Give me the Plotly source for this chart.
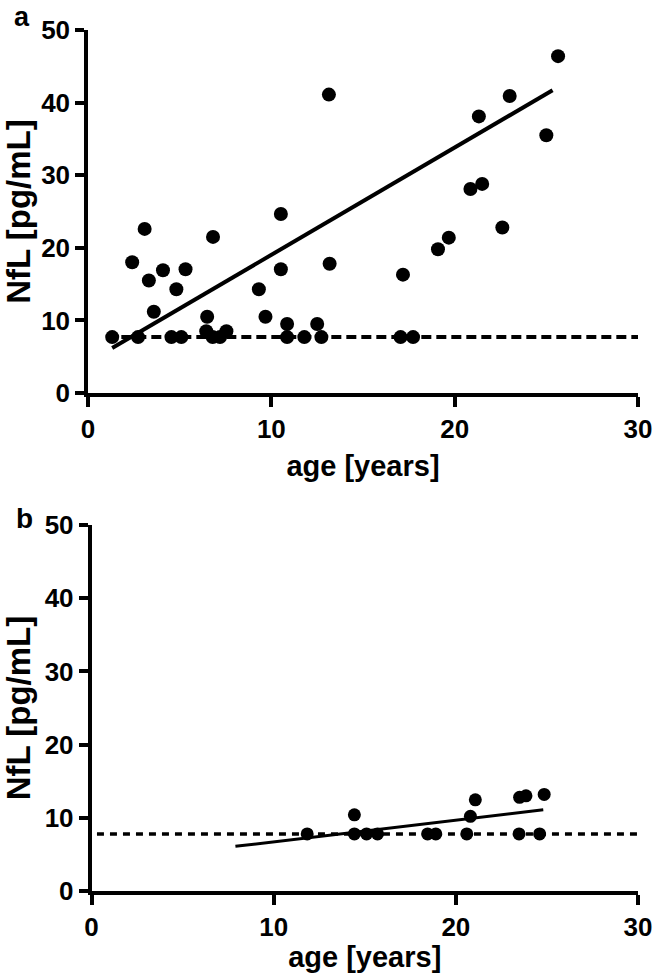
import plotly.graph_objects as go

# Panel a data (age in years, NfL pg/mL)
age_a = [1.32, 2.41, 2.73, 3.09, 3.32, 3.59, 4.09, 4.55, 4.82, 5.09, 5.32,
         6.5, 6.45, 6.82, 6.8, 7.2, 7.55, 9.32, 9.68, 10.52, 10.52, 10.86,
         10.86, 11.8, 12.5, 12.73, 13.18, 13.14, 17.05, 17.18, 17.73, 19.09,
         19.68, 20.86, 21.5, 22.6, 21.32, 23.0, 25.0, 25.64]
nfl_a = [7.7, 18.0, 7.7, 22.6, 15.5, 11.2, 16.9, 7.7, 14.3, 7.7, 17.05,
         10.5, 8.5, 21.5, 7.7, 7.7, 8.5, 14.3, 10.5, 24.65, 17.05, 9.5,
         7.7, 7.7, 9.5, 7.7, 17.8, 41.1, 7.7, 16.3, 7.7, 19.8,
         21.4, 28.1, 28.8, 22.8, 38.1, 40.9, 35.5, 46.4]
fit_a_x = [1.32, 25.34]
fit_a_y = [6.2, 41.7]
lloq_a_x = [1.0, 30.0]
lloq_a_y = [7.7, 7.7]

# Panel b data
age_b = [11.84, 14.43, 14.43, 15.1, 15.7, 18.45, 18.9, 20.6, 20.8, 21.07,
         23.47, 23.5, 23.85, 24.6, 24.85]
nfl_b = [7.8, 10.4, 7.8, 7.8, 7.8, 7.8, 7.8, 7.8, 10.2, 12.45,
         7.8, 12.8, 13.0, 7.8, 13.2]
fit_b_x = [7.9, 24.8]
fit_b_y = [6.1, 11.1]
lloq_b_x = [0.3, 30.0]
lloq_b_y = [7.8, 7.8]

x_ticks = [0, 10, 20, 30]
y_ticks = [0, 10, 20, 30, 40, 50]

FONT = "Liberation Sans, Arial, sans-serif"
W, H = 654, 976

fig = go.Figure()

# Panel a
fig.add_trace(go.Scatter(x=lloq_a_x, y=lloq_a_y, mode="lines",
                         line=dict(color="black", width=4, dash="10px,5px"),
                         xaxis="x", yaxis="y", showlegend=False, hoverinfo="skip"))
fig.add_trace(go.Scatter(x=fit_a_x, y=fit_a_y, mode="lines",
                         line=dict(color="black", width=4),
                         xaxis="x", yaxis="y", showlegend=False))
fig.add_trace(go.Scatter(x=age_a, y=nfl_a, mode="markers",
                         marker=dict(color="black", size=14),
                         cliponaxis=False, xaxis="x", yaxis="y", showlegend=False))

# Panel b
fig.add_trace(go.Scatter(x=lloq_b_x, y=lloq_b_y, mode="lines",
                         line=dict(color="black", width=3.5, dash="7px,6px"),
                         xaxis="x2", yaxis="y2", showlegend=False, hoverinfo="skip"))
fig.add_trace(go.Scatter(x=fit_b_x, y=fit_b_y, mode="lines",
                         line=dict(color="black", width=3),
                         xaxis="x2", yaxis="y2", showlegend=False))
fig.add_trace(go.Scatter(x=age_b, y=nfl_b, mode="markers",
                         marker=dict(color="black", size=13),
                         cliponaxis=False, xaxis="x2", yaxis="y2", showlegend=False))

tickfont = dict(family=FONT, size=26, color="black", weight="bold")
xtitlefont = dict(family=FONT, size=29, color="black", weight="bold")
ytitlefont = dict(family=FONT, size=33, color="black", weight="bold")

def xaxis(domain, anchor, standoff):
    return dict(domain=domain, anchor=anchor, range=[0, 30], tickvals=x_ticks,
                showline=True, linewidth=3.5, linecolor="black", ticks="outside",
                ticklen=10, tickwidth=3.5, tickcolor="black", showgrid=False,
                zeroline=False, tickfont=tickfont, automargin=False,
                title=dict(text="age [years]", font=xtitlefont, standoff=standoff))

def yaxis(domain, anchor):
    return dict(domain=domain, anchor=anchor, range=[0, 50], tickvals=y_ticks,
                showline=True, linewidth=3.5, linecolor="black", ticks="outside",
                ticklen=9, tickwidth=3.5, tickcolor="black", showgrid=False,
                zeroline=False, tickfont=tickfont, automargin=False,
                title=dict(text="NfL [pg/mL]", font=ytitlefont, standoff=26))

fig.update_layout(
    width=W, height=H,
    margin=dict(l=0, r=0, t=0, b=0),
    paper_bgcolor="white", plot_bgcolor="white",
    xaxis=xaxis([88 / W, 638 / W], "y", 14),
    yaxis=yaxis([1 - 393 / H, 1 - 30 / H], "x"),
    xaxis2=xaxis([91.5 / W, 638 / W], "y2", 7),
    yaxis2=yaxis([1 - 891 / H, 1 - 525 / H], "x2"),
    annotations=[
        dict(text="a", x=22 / W, y=1.0, xref="paper", yref="paper",
             showarrow=False, xanchor="center", yanchor="top",
             font=dict(family=FONT, size=27, color="black", weight="bold")),
        dict(text="b", x=24 / W, y=1 - 518 / H, xref="paper", yref="paper",
             showarrow=False, xanchor="center", yanchor="middle",
             font=dict(family=FONT, size=28, color="black", weight="bold")),
    ],
)

fig.write_html("out.html",
               config={"displayModeBar": False},
               post_script="document.body.style.margin='0';"
                           "document.body.style.overflow='hidden';")
